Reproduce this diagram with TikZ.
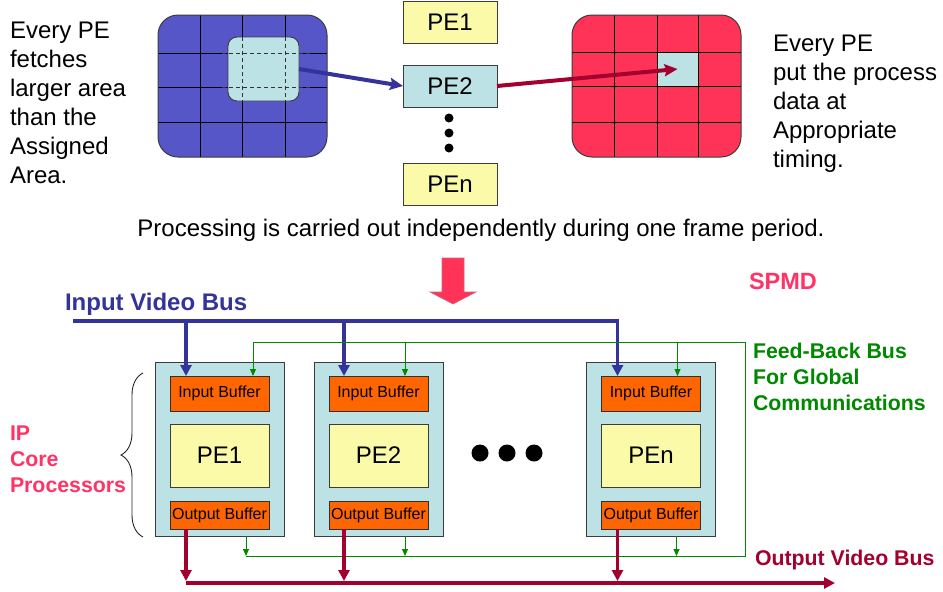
\documentclass[tikz,border=0pt]{standalone}
\usepackage{fontspec}
\setmainfont{Liberation Sans}
\usetikzlibrary{arrows.meta,decorations.pathreplacing,calc}

\definecolor{gridblue}{HTML}{5656C8}
\definecolor{cellcyan}{HTML}{BCE2E5}
\definecolor{peyellow}{HTML}{FAFAA8}
\definecolor{gridred}{HTML}{FF3358}
\definecolor{bufforange}{HTML}{FF6600}
\definecolor{busblue}{HTML}{333399}
\definecolor{busred}{HTML}{A3002F}
\definecolor{fbgreen}{HTML}{008800}
\definecolor{labelpink}{HTML}{FF3366}
\definecolor{edgegray}{HTML}{3C3C3C}

\tikzset{
  gridline/.style={black, line width=1pt},
  gridedge/.style={edgegray, line width=1pt},
  dashline/.style={black!80, line width=1pt, dash pattern=on 4pt off 3pt},
  topbox/.style={draw=edgegray, line width=0.9pt, fill=peyellow,
    minimum width=94pt, minimum height=42pt, font=\fontsize{24}{28}\selectfont},
  cellbox/.style={fill=cellcyan, minimum width=41pt, minimum height=34pt},
  fetchbox/.style={draw=edgegray, line width=0.9pt, fill=cellcyan, rounded corners=9pt,
    minimum width=71pt, minimum height=64pt},
  bigarrow/.style={line width=4pt, -{Stealth[length=13pt,width=12pt,inset=2pt]}},
  pebox/.style={draw=edgegray, line width=0.9pt, fill=cellcyan,
    minimum width=129pt, minimum height=174pt},
  bufbox/.style={draw=edgegray!80!black, line width=0.9pt, fill=bufforange,
    minimum width=99pt, font=\fontsize{16}{19}\selectfont},
  inbuf/.style={bufbox, minimum height=35pt},
  outbuf/.style={bufbox, minimum height=28pt},
  pecore/.style={draw=edgegray, line width=0.9pt, fill=peyellow,
    minimum width=99pt, minimum height=63pt, font=\fontsize{24}{28}\selectfont},
  bluebus/.style={busblue, line width=3.8pt, -{Triangle[length=11pt,width=11pt]}},
  redbus/.style={busred, line width=3.8pt, -{Triangle[length=11pt,width=11pt]}},
  fbline/.style={fbgreen, line width=1pt},
  fbarrow/.style={fbline, -{Triangle[length=7pt,width=6pt]}},
  desc/.style={align=left, font=\fontsize{24}{29}\selectfont},
  boldlabel/.style={align=left, font=\fontsize{21.3}{26}\selectfont\bfseries},
}

\begin{document}
\begin{tikzpicture}[x=1pt, y=-1pt, every node/.style={inner sep=0pt, outer sep=0pt}]
\useasboundingbox (0,0) rectangle (943,592);

% ---- input frame with the fetched window ----
\fill[gridblue, rounded corners=20pt] (158,15) rectangle (327,157);
\foreach \x in {200,242,285} \draw[gridline] (\x,15) -- (\x,157);
\foreach \y in {53,87,122} \draw[gridline] (158,\y) -- (327,\y);
\draw[gridedge, rounded corners=20pt] (158,15) rectangle (327,157);
\node[fetchbox] (fetch) at (263.5,69) {};
\foreach \y in {53,87} \draw[dashline] (222,\y) -- (313,\y);
\foreach \x in {242,285} \draw[dashline] (\x,37) -- (\x,101);

% ---- output frame with the written cell ----
\fill[gridred, rounded corners=20pt] (572,15) rectangle (741,157);
\node[cellbox] (put) at (677.5,69) {};
\foreach \x in {614,657,698} \draw[gridline] (\x,15) -- (\x,157);
\foreach \y in {52,86,122} \draw[gridline] (572,\y) -- (741,\y);
\draw[gridedge, rounded corners=20pt] (572,15) rectangle (741,157);

% ---- processing elements ----
\node[topbox] (tpe1) at (450,22.5) {PE1};
\node[topbox, fill=cellcyan] (tpe2) at (450,86) {PE2};
\node[topbox] (tpen) at (450,184) {PEn};
\foreach \y in {118,133,148} \fill (449,\y) circle (4.5pt);

\draw[bigarrow, busblue] (fetch.east) -- (tpe2.west);
\draw[bigarrow, busred] (tpe2.east) -- (put.center);

% ---- descriptions ----
\node[desc, anchor=north west] (fetchtxt) at (10,22)
  {Every PE\\fetches\\larger area\\than the\\Assigned\\Area.};
\node[desc, anchor=north west] (puttxt) at (773,35)
  {Every PE\\put the process\\data at\\Appropriate\\timing.};
\node[desc, anchor=base] (proctxt) at (481,236)
  {Processing is carried out independently during one frame period.};

% ---- transition arrow ----
\filldraw[fill=gridred, draw=busred!60, line width=0.6pt]
  (442,258) -- (464,258) -- (464,292) -- (476,292) -- (453,304)
  -- (430,292) -- (442,292) -- cycle;

\node[boldlabel, font=\fontsize{23.5}{28}\selectfont\bfseries, text=labelpink,
  anchor=base west] (spmd) at (749,289) {SPMD};

% ---- IP core blocks ----
\foreach \n/\cx/\lab in {1/219.5/PE1, 2/378.5/PE2, n/651/PEn}{
  \node[pebox] (box\n) at (\cx,449) {};
  \node[inbuf] (in\n) at (\cx,393.5) {Input Buffer};
  \node[pecore] (core\n) at (\cx,455.5) {\lab};
  \node[outbuf] (out\n) at (\cx,515) {Output Buffer};
}
\foreach \x in {480,507,534} \fill (\x,453) circle (8.5pt);

% ---- input video bus ----
\node[boldlabel, font=\fontsize{24}{28}\selectfont\bfseries, text=busblue, anchor=base west]
  (ivbtxt) at (65,310) {Input Video Bus};
\coordinate (ivb) at (73,321);
\coordinate (d1) at ([xshift=16pt]in1.north west);
\coordinate (d2) at ([xshift=15pt]in2.north west);
\coordinate (dn) at ([xshift=16pt]inn.north west);
\draw[bluebus] (ivb) -| (dn);
\draw[bluebus] (d1 |- ivb) -- (d1);
\draw[bluebus] (d2 |- ivb) -- (d2);

% ---- feed-back bus ----
\coordinate (fbtop) at (745,342);
\coordinate (fbbot) at (745,556);
\coordinate (g1) at ([xshift=-16pt]in1.north east);
\coordinate (g2) at ([xshift=-23pt]in2.north east);
\coordinate (gn) at ([xshift=-23pt]inn.north east);
\coordinate (h1) at ([xshift=-38pt]box1.south east);
\coordinate (h2) at ([xshift=-38pt]box2.south east);
\coordinate (hn) at ([xshift=-39pt]boxn.south east);
\draw[fbline] (g1 |- fbtop) -- (fbtop) -- (fbbot) -- (h1 |- fbbot);
\foreach \g in {g1,g2,gn} \draw[fbarrow] (\g |- fbtop) -- (\g);
\foreach \h in {h1,h2,hn} \draw[fbarrow] (\h) -- (\h |- fbbot);
\node[boldlabel, text=fbgreen, anchor=north west] (fbtxt) at (753,343.5)
  {Feed-Back Bus\\For Global\\Communications};

% ---- output video bus ----
\coordinate (ovb) at (835,583);
\coordinate (o1) at ([xshift=16pt]out1.south west);
\coordinate (o2) at ([xshift=15pt]out2.south west);
\coordinate (on) at ([xshift=16pt]outn.south west);
\draw[redbus] (o1 |- ovb) -- (ovb);
\foreach \o in {o1,o2,on} \draw[redbus] (\o) -- ([yshift=2pt]\o |- ovb);
\node[boldlabel, text=busred, anchor=base west] (ovbtxt) at (755,565) {Output Video Bus};

% ---- IP core label ----
\draw[black!85, line width=0.9pt, decorate, decoration={brace, amplitude=22pt}]
  (143,537) -- (143,373);
\node[boldlabel, text=labelpink, anchor=north west] (iptxt) at (10,425.5)
  {IP\\Core\\Processors};
\end{tikzpicture}
\end{document}
